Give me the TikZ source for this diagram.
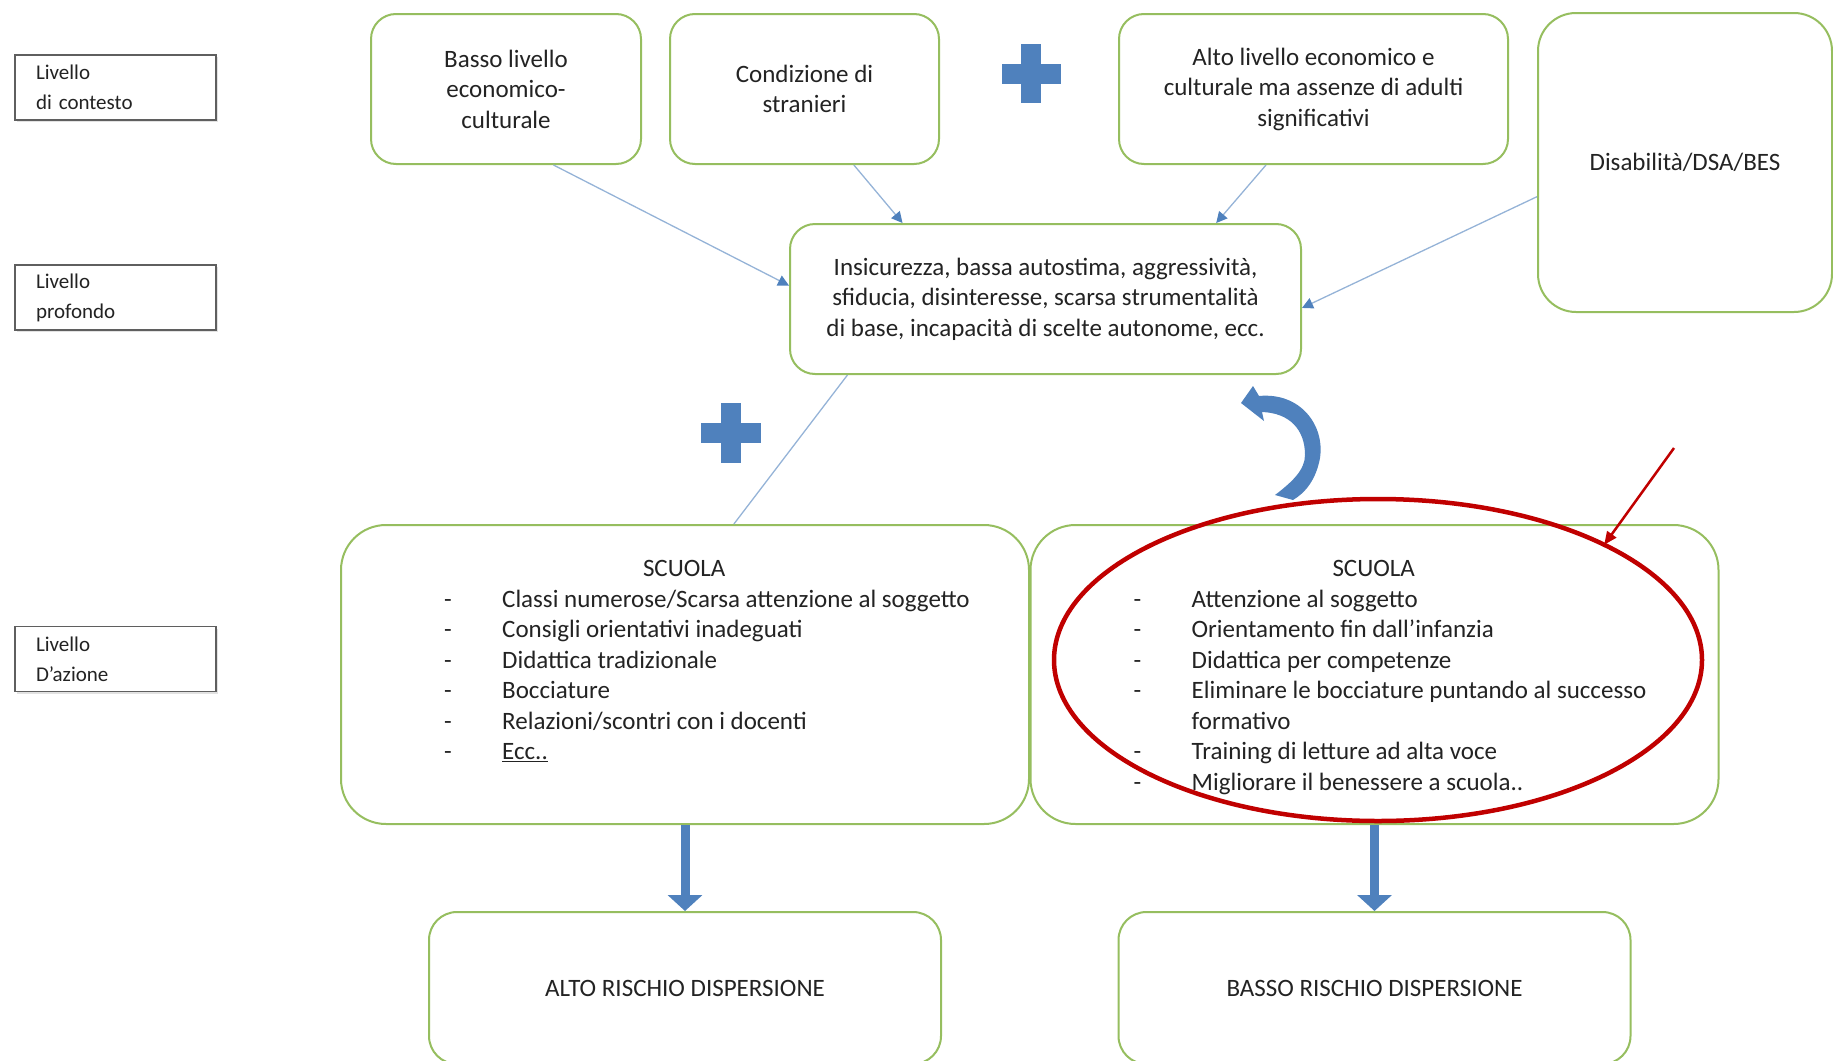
\documentclass[tikz,border=0pt]{standalone}
\usepackage{fontspec}
\setmainfont{Carlito}
\usepackage{tikz}
\usetikzlibrary{shapes,arrows,arrows.meta,shadows}
\definecolor{boxgreen}{RGB}{150,190,95}
\definecolor{linkblue}{RGB}{149,179,215}
\definecolor{tipblue}{RGB}{79,129,189}
\definecolor{markred}{RGB}{192,0,0}
\definecolor{labelgray}{RGB}{95,95,95}
\definecolor{inkgray}{RGB}{35,35,35}
\newcommand{\testo}{\fontsize{25}{30.5}\selectfont}
\newcommand{\testino}{\fontsize{21}{30}\selectfont}
\newcommand{\titolo}[1]{\makebox[480pt]{#1}}
\newcommand{\trattino}{\makebox[58pt][l]{-}}
\tikzstyle{livello} = [draw=labelgray, line width=1.5pt, fill=white, minimum width=201pt, minimum height=65pt, inner xsep=21pt, text width=159pt, align=left, font=\testino, text=inkgray, drop shadow={shadow xshift=2pt, shadow yshift=-2pt, fill=gray!45}]
\tikzstyle{cause} = [draw=boxgreen, line width=2pt, rounded corners=25pt, fill=white, align=center, minimum height=150pt, font=\testo, text=inkgray]
\tikzstyle{scuola} = [cause, rounded corners=45pt, minimum width=688pt, minimum height=299pt]
\tikzstyle{esito} = [cause, rounded corners=28pt, minimum width=512pt, minimum height=152pt]
\tikzstyle{voce} = [align=left, inner sep=0pt, anchor=base west, font=\testo, text=inkgray]
\tikzstyle{link} = [draw=linkblue, line width=1.3pt, -{Triangle[width=11pt,length=11pt,color=tipblue]}]
\tikzstyle{plainlink} = [draw=linkblue, line width=1.3pt]
\tikzstyle{bigarrow} = [draw=tipblue, line width=9pt, -{Triangle[width=34pt,length=16pt]}]
\tikzstyle{redlink} = [draw=markred, line width=2.5pt, -{Triangle[width=11pt,length=13pt]}]

\begin{document}
\begin{tikzpicture}[x=1pt, y=-1pt]
		\useasboundingbox (0,0) rectangle (1833,1060);
		
		% livelli
		\node [livello] (contesto) at (115.5,87.5) {Livello\\di contesto};
		\node [livello, below of=contesto, node distance=210pt] (profondo) {Livello\\profondo};
		\node [livello, below of=profondo, node distance=361.5pt] (azione) {Livello\\D'azione};
		
		% cause
		\node [cause, minimum width=270pt] (basso) at (506,89) {Basso livello\\economico-\\culturale};
		\node [cause, right of=basso, node distance=298.5pt, minimum width=269pt] (stranieri) {Condizione di\\stranieri};
		\node [cause, right of=stranieri, node distance=509pt, minimum width=389pt] (alto) {Alto livello economico e\\culturale ma assenze di adulti\\significativi};
		\node [cause, minimum width=294pt, minimum height=299pt, rounded corners=38pt] (disab) at (1685,162.5) {Disabilità/DSA/BES};
		\node [cause, minimum width=511pt] (disagio) at (1045.5,299) {Insicurezza, bassa autostima, aggressività,\\sfiducia, disinteresse, scarsa strumentalità\\di base, incapacità di scelte autonome, ecc.};
		
		% scuola (base = ultima riga)
		\node [scuola] (scuolaA) at (685,674.5) {};
		\node [scuola, right of=scuolaA, node distance=689.5pt] (scuolaB) {};
		\node [voce] (vociA) at ([xshift=104pt, yshift=-235.5pt]scuolaA.north west) {\titolo{SCUOLA}\\
			\trattino Classi numerose/Scarsa attenzione al soggetto\\
			\trattino Consigli orientativi inadeguati\\
			\trattino Didattica tradizionale\\
			\trattino Bocciature\\
			\trattino Relazioni/scontri con i docenti\\
			\trattino \underline{Ecc..}};
		\node [voce] (vociB) at ([xshift=104pt, yshift=-266pt]scuolaB.north west) {\titolo{SCUOLA}\\
			\trattino Attenzione al soggetto\\
			\trattino Orientamento fin dall'infanzia\\
			\trattino Didattica per competenze\\
			\trattino Eliminare le bocciature puntando al successo\\
			\hspace*{58pt}formativo\\
			\trattino Training di letture ad alta voce\\
			\trattino Migliorare il benessere a scuola..};
		
		% esiti
		\node [esito, below of=scuolaA, node distance=313.5pt] (altoR) {ALTO RISCHIO DISPERSIONE};
		\node [esito, below of=scuolaB, node distance=313.5pt] (bassoR) {BASSO RISCHIO DISPERSIONE};
		
		\draw [link] (basso.-58) -- (disagio.177);
		\draw [link] (stranieri.-57) -- (disagio.152);
		\draw [link] (alto.-122) -- (disagio.24);
		\draw [link] (disab.-167) -- (disagio.-2);
		\draw [plainlink] (disagio.-159) -- (scuolaA.72);
		
		\draw [bigarrow] (scuolaA.south) -- (altoR.north);
		\draw [bigarrow] (scuolaB.south) -- (bassoR.north);
		
		% segni +
		\fill [tipblue] (1021,44) rectangle (1041,103);
		\fill [tipblue] (1002,64) rectangle (1061,84);
		\fill [tipblue] (721,403) rectangle (741,463);
		\fill [tipblue] (701,423) rectangle (761,443);
		
		% freccia curva
		\fill [tipblue] (1241,403) -- (1253,386) -- (1259,396)
			.. controls (1300,392) and (1325,425) .. (1320,458)
			.. controls (1316,480) and (1305,493) .. (1293,500)
			-- (1275,495)
			.. controls (1292,482) and (1305,470) .. (1305,455)
			.. controls (1305,430) and (1290,413) .. (1262,412)
			-- (1264,421) -- cycle;
		
		% evidenziazione
		\node [draw=markred, line width=4.5pt, ellipse, minimum width=648pt, minimum height=322pt, inner sep=0pt, outer sep=0pt] (focus) at (1378,660) {};
		\coordinate (spunto) at (1674,448);
		\draw [redlink] (spunto) -- (focus.27);
		
\end{tikzpicture}
\end{document}
